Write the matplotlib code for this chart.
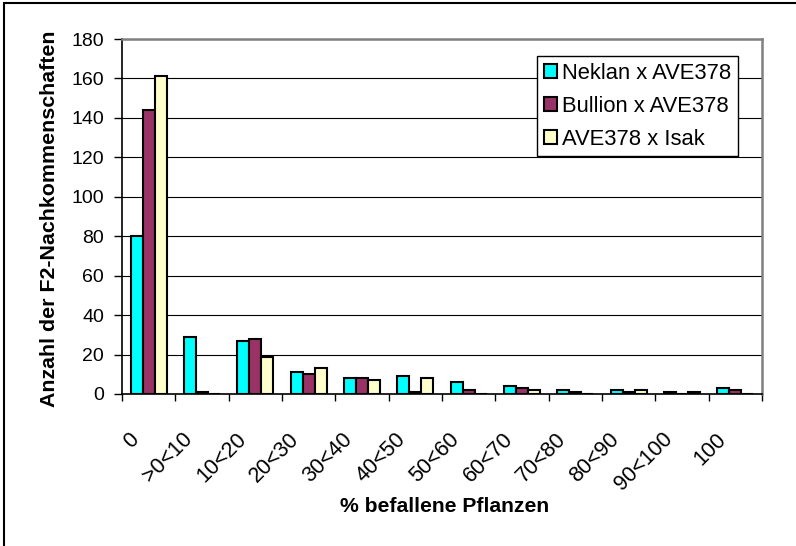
import matplotlib
matplotlib.use("Agg")
import matplotlib.pyplot as plt
import numpy as np
from matplotlib.patches import Rectangle
from matplotlib.transforms import ScaledTranslation

plt.rcParams['font.family'] = ['Liberation Sans', 'DejaVu Sans']

categories = ["0", ">0<10", "10<20", "20<30", "30<40", "40<50", "50<60",
              "60<70", "70<80", "80<90", "90<100", "100"]
neklan = [80, 29, 27, 11, 8, 9, 6, 4, 2, 2, 1, 3]
bullion = [144, 1, 28, 10, 8, 1, 2, 3, 1, 1, 0, 2]
isak = [161, 0, 19, 13, 7, 8, 0, 2, 0, 2, 1, 0]
series_names = ["Neklan x AVE378", "Bullion x AVE378", "AVE378 x Isak"]
colors = ["#00FFFF", "#993366", "#FFFFCC"]
yticks = list(range(0, 181, 20))

W, H = 796, 546
fig = plt.figure(figsize=(W / 100, H / 100), dpi=100)
ax = fig.add_axes([122 / W, 1 - 394 / H, 640 / W, 355 / H])

x = np.arange(len(categories))
bw = 0.225
for i, (vals, name, c) in enumerate(zip([neklan, bullion, isak], series_names, colors)):
    ax.bar(x + (i - 1) * bw, vals, width=bw, color=c, edgecolor='black',
           linewidth=1.5, label=name, zorder=3)

ax.set_xlim(-0.5, len(categories) - 0.5)
ax.set_ylim(0, 180)
ax.set_yticks(yticks)
ax.yaxis.grid(True, color='black', linewidth=0.8, zorder=0)
ax.set_axisbelow(True)

# category boundaries as major ticks, labels at centers
ax.set_xticks(np.arange(-0.5, len(categories), 1.0))
ax.set_xticklabels([])
ax.set_xticks(x, minor=True)
ax.set_xticklabels(categories, minor=True, rotation=45, ha='right', va='top',
                   fontsize=15.5)
ax.tick_params(axis='x', which='major', length=5, width=1, direction='out')
ax.tick_params(axis='x', which='minor', length=0, pad=25)
ax.tick_params(axis='y', length=6, width=1, direction='out', pad=7, labelsize=14)
offset = ScaledTranslation(-5 / 100, 0, fig.dpi_scale_trans)
for lab in ax.get_xticklabels(minor=True):
    lab.set_transform(lab.get_transform() + offset)

for s in ['left', 'bottom']:
    ax.spines[s].set_color('black')
    ax.spines[s].set_linewidth(1.2)
for s in ['top', 'right']:
    ax.spines[s].set_color('#808080')
    ax.spines[s].set_linewidth(1.8)

leg = ax.legend(loc='upper left', bbox_to_anchor=(537 / W, 1 - 56 / H),
                bbox_transform=fig.transFigure, fontsize=15.8, frameon=True,
                fancybox=False, edgecolor='black', framealpha=1,
                handlelength=0.6, handleheight=0.6, handletextpad=0.25,
                labelspacing=0.55, borderpad=0.3, borderaxespad=0)
leg.get_frame().set_linewidth(1.0)
for h in leg.legend_handles:
    h.set_linewidth(1.5)

fig.text(50 / W, 1 - 219 / H, "Anzahl der F2-Nachkommenschaften", rotation=90,
         ha='center', va='center', fontsize=15.4, fontweight='bold')
fig.text(445 / W, 1 - 512 / H, "% befallene Pflanzen", ha='center',
         va='baseline', fontsize=15.2, fontweight='bold')

fig.patches.append(Rectangle((3.5 / W, -0.1), 1.2, 1 - 2.5 / H + 0.1,
                             transform=fig.transFigure, fill=False,
                             edgecolor='black', linewidth=1.5))

fig.savefig("out.png", dpi=100)
